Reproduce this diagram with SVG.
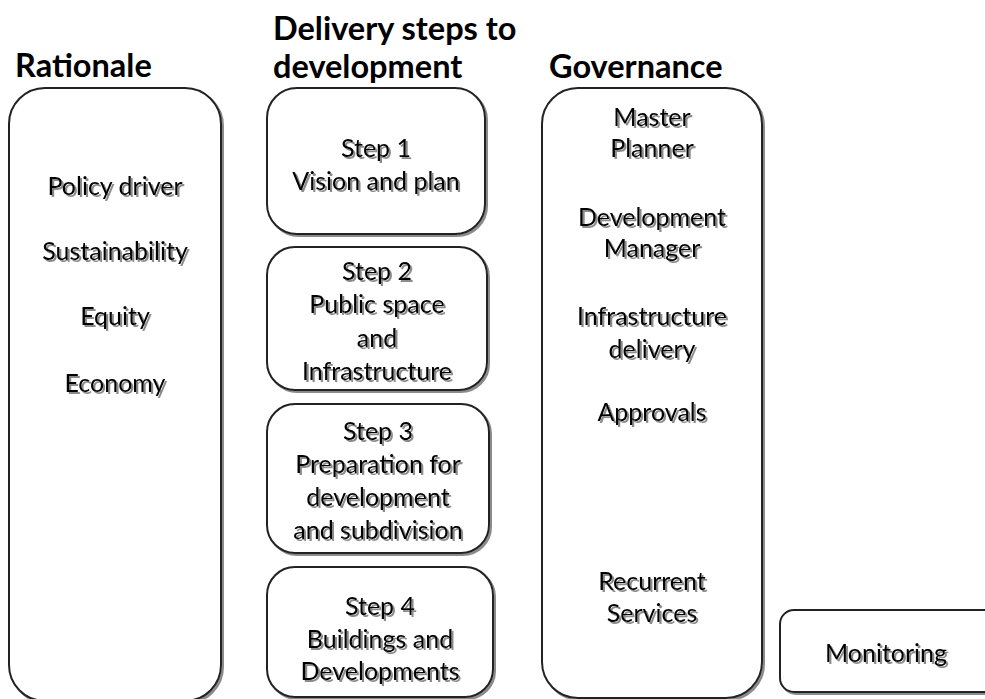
<svg xmlns="http://www.w3.org/2000/svg" width="985" height="699" viewBox="0 0 985 699">
<defs>
<filter id="sh" x="-10%" y="-10%" width="130%" height="140%">
<feDropShadow dx="2" dy="2" stdDeviation="0.7" flood-color="#777" flood-opacity="0.85"/>
</filter>
</defs>
<style>
.box{fill:#fff;stroke:#222;stroke-width:2;filter:url(#sh)}
.t{font-family:Lato,"Open Sans","Liberation Sans",sans-serif;font-size:25px;fill:#000;text-anchor:middle;dominant-baseline:central;filter:url(#sh)}
.h{font-family:Lato,"Open Sans","Liberation Sans",sans-serif;font-size:32.5px;font-weight:bold;fill:#000}
</style>
<rect width="985" height="699" fill="#fff"/>
<g id="titles">
<text class="h" x="15" y="77">Rationale</text>
<text class="h" x="273" y="40">Delivery steps to</text>
<text class="h" x="273" y="78">development</text>
<text class="h" x="549" y="78">Governance</text>
</g>
<g id="rationale">
<rect class="box" x="9" y="88" width="212" height="613" rx="36"/>
<text class="t" x="115" y="185">Policy driver</text>
<text class="t" x="115" y="250">Sustainability</text>
<text class="t" x="115" y="315">Equity</text>
<text class="t" x="115" y="382">Economy</text>
</g>
<g id="step1">
<rect class="box" x="267" y="88" width="218" height="146" rx="30"/>
<text class="t" x="376" y="147">Step 1</text>
<text class="t" x="376" y="180">Vision and plan</text>
</g>
<g id="step2">
<rect class="box" x="267" y="247" width="220" height="143" rx="28"/>
<text class="t" x="377" y="270">Step 2</text>
<text class="t" x="377" y="303">Public space</text>
<text class="t" x="377" y="337">and</text>
<text class="t" x="377" y="370">Infrastructure</text>
</g>
<g id="step3">
<rect class="box" x="267" y="404" width="222" height="149" rx="28"/>
<text class="t" x="378" y="430">Step 3</text>
<text class="t" x="378" y="463">Preparation for</text>
<text class="t" x="378" y="496">development</text>
<text class="t" x="378" y="529">and subdivision</text>
</g>
<g id="step4">
<rect class="box" x="267" y="567" width="226" height="130" rx="28"/>
<text class="t" x="380" y="605">Step 4</text>
<text class="t" x="380" y="638">Buildings and</text>
<text class="t" x="380" y="670">Developments</text>
</g>
<g id="governance">
<rect class="box" x="542" y="88" width="220" height="610" rx="36"/>
<text class="t" x="652" y="116">Master</text>
<text class="t" x="652" y="147">Planner</text>
<text class="t" x="652" y="216">Development</text>
<text class="t" x="652" y="247">Manager</text>
<text class="t" x="652" y="315">Infrastructure</text>
<text class="t" x="652" y="348">delivery</text>
<text class="t" x="652" y="411">Approvals</text>
<text class="t" x="652" y="580">Recurrent</text>
<text class="t" x="652" y="612">Services</text>
</g>
<g id="monitoring">
<rect class="box" x="780" y="610" width="230" height="82" rx="14"/>
<text class="t" x="886" y="652">Monitoring</text>
</g>
<g id="connectors"></g>
</svg>
